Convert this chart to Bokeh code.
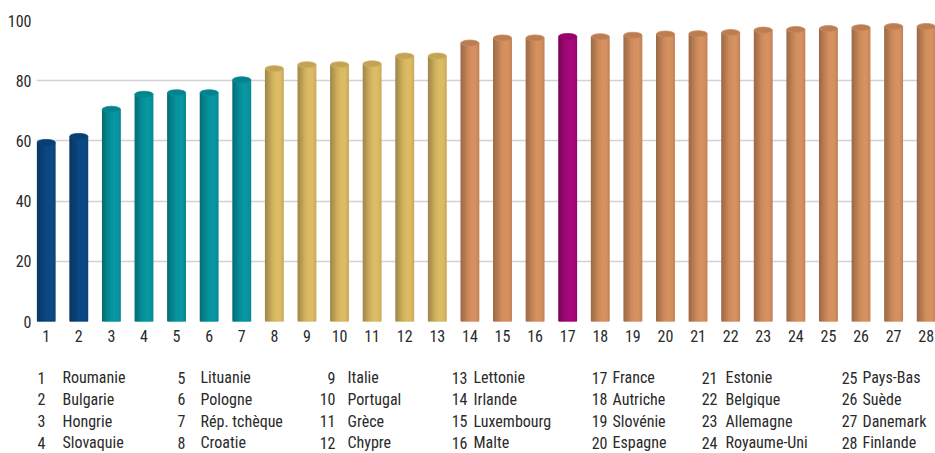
from bokeh.plotting import figure
from bokeh.layouts import column
from bokeh.models import Range1d, FixedTicker, ColumnDataSource
from bokeh.core.properties import value
from bokeh.embed import file_html
from bokeh.resources import INLINE

# ---- data -------------------------------------------------------------
ranks = list(range(1, 29))
countries = [
    "Roumanie", "Bulgarie", "Hongrie", "Slovaquie",
    "Lituanie", "Pologne", "Rép. tchèque", "Croatie",
    "Italie", "Portugal", "Grèce", "Chypre",
    "Lettonie", "Irlande", "Luxembourg", "Malte",
    "France", "Autriche", "Slovénie", "Espagne",
    "Estonie", "Belgique", "Allemagne", "Royaume-Uni",
    "Pays-Bas", "Suède", "Danemark", "Finlande",
]
scores = [59.5, 61.5, 70.5, 75.5, 76.0, 76.0, 80.3, 84.0, 85.3, 85.3,
          85.6, 88.2, 88.2, 92.5, 94.2, 94.2, 94.7, 94.6, 95.1, 95.5,
          95.6, 96.0, 96.8, 97.0, 97.3, 97.6, 98.0, 98.0]
groups = (["low"] * 2 + ["mid_low"] * 5 + ["mid_high"] * 6 + ["high"] * 3
          + ["focus"] + ["high"] * 11)
y_ticks = [0, 20, 40, 60, 80, 100]

# ---- styling ----------------------------------------------------------
FONT = "Roboto Condensed, Liberation Sans Narrow, Arial Narrow, Roboto"
FONT_SIZE = "16px"
TEXT = "#2a2a2a"
palette = {
    "low": (10, 70, 128),
    "mid_low": (6, 146, 156),
    "mid_high": (214, 182, 96),
    "high": (208, 140, 92),
    "focus": (162, 6, 118),
}
BAR_W = 0.56      # cylinder width in x units
CAP_H = 2.0       # cap ellipse height in y units
N_STRIPS = 26

# left-to-right lighting profile of a cylinder
profile = [(0.0, 0.74), (0.10, 0.79), (0.26, 0.88), (0.42, 0.97),
           (0.62, 1.03), (0.84, 1.03), (0.95, 0.97), (1.0, 0.92)]


def light(t):
    for (t0, f0), (t1, f1) in zip(profile, profile[1:]):
        if t <= t1:
            return f0 + (f1 - f0) * (t - t0) / (t1 - t0)
    return profile[-1][1]


def shade(rgb, f):
    return "#%02x%02x%02x" % tuple(max(0, min(255, int(round(c * f)))) for c in rgb)


# ---- main chart -------------------------------------------------------
LEFT = 36
p = figure(width=935, height=360, output_backend="svg", toolbar_location=None,
           x_range=Range1d(0.7025, 28.285), y_range=Range1d(0, 100),
           min_border_left=LEFT, min_border_right=0, min_border_top=20,
           min_border_bottom=39)
p.outline_line_color = None
p.background_fill_color = "white"
p.xgrid.visible = False
p.ygrid.ticker = FixedTicker(ticks=y_ticks[1:-1])
p.ygrid.grid_line_color = "#d2d2d2"
p.ygrid.grid_line_width = 1.6
p.ygrid.bounds = (0.825, 28.285)

for ax in (p.xaxis[0], p.yaxis[0]):
    ax.axis_line_color = None
    ax.major_tick_line_color = None
    ax.minor_tick_line_color = None
    ax.major_tick_out = 0
    ax.major_tick_in = 0
    ax.major_label_text_font = FONT
    ax.major_label_text_font_size = FONT_SIZE
    ax.major_label_text_color = TEXT
p.xaxis.ticker = FixedTicker(ticks=ranks)
p.xaxis.major_label_standoff = 8
p.yaxis.ticker = FixedTicker(ticks=y_ticks)
p.yaxis.major_label_standoff = 5

# bottom rims of the cylinders
p.ellipse(x=ranks, y=[0] * len(ranks), width=BAR_W, height=CAP_H,
          fill_color=[shade(palette[g], 1.0) for g in groups], line_color=None)

# cylinder bodies as overlapping vertical strips with a lighting gradient
sx, stop, scol = [], [], []
step = BAR_W / N_STRIPS
for r, s, g in zip(ranks, scores, groups):
    for k in range(N_STRIPS):
        t = (k + 0.5) / N_STRIPS
        sx.append(r - BAR_W / 2 + (k + 0.5) * step)
        stop.append(s)
        scol.append(shade(palette[g], light(t)))
p.vbar(x="x", top="top", bottom=0, width=step * 1.9,
       fill_color="color", line_color=None,
       source=ColumnDataSource(dict(x=sx, top=stop, color=scol)))

# top caps
p.ellipse(x=ranks, y=scores, width=BAR_W, height=CAP_H,
          fill_color=[shade(palette[g], 0.90) for g in groups],
          line_color=[shade(palette[g], 0.97) for g in groups], line_width=0.8)

# ---- numbered country key --------------------------------------------
# pixel-like coordinates, sharing the chart's left frame edge
key = figure(width=935, height=93, output_backend="svg", toolbar_location=None,
             x_range=Range1d(LEFT, 935), y_range=Range1d(93, 0),
             min_border=0, min_border_left=LEFT,
             x_axis_type=None, y_axis_type=None)
key.outline_line_color = None
key.grid.visible = False

num_right = [45, 185, 335, 467, 607, 717, 857]
name_left = [62, 200, 347, 473, 612, 725, 862]
row_y = [17.0, 38.5, 60.5, 82.0]

nx, ny, lx = [], [], []
for i in range(len(countries)):
    c, rw = divmod(i, 4)
    nx.append(num_right[c])
    lx.append(name_left[c])
    ny.append(row_y[rw])

key.text(x=nx, y=ny, text=[str(r) for r in ranks], text_align="right",
         text_baseline="middle", text_font=value(FONT),
         text_font_size=value(FONT_SIZE), text_color=TEXT)
key.text(x=lx, y=ny, text=countries, text_align="left",
         text_baseline="middle", text_font=value(FONT),
         text_font_size=value(FONT_SIZE), text_color=TEXT)

layout = column(p, key, spacing=0)
open("out.html", "w").write(file_html(layout, INLINE))
